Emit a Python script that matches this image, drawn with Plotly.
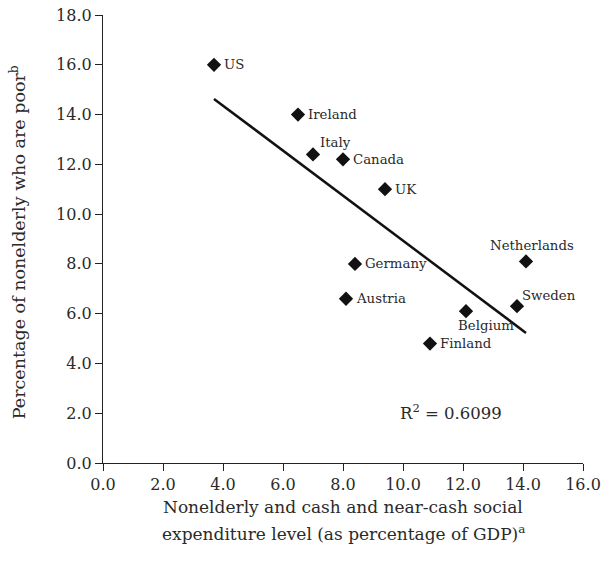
import numpy as np
import plotly.graph_objects as go

countries = ["US", "Ireland", "Italy", "Canada", "UK", "Germany", "Austria",
             "Belgium", "Finland", "Sweden", "Netherlands"]
expenditure = [3.7, 6.5, 7.0, 8.0, 9.4, 8.4, 8.1, 12.1, 10.9, 13.8, 14.1]
poverty = [16.0, 14.0, 12.4, 12.2, 11.0, 8.0, 6.6, 6.1, 4.8, 6.3, 8.1]
r_squared = "0.6099"
x_title_lines = ["Nonelderly and cash and near-cash social",
                 "expenditure level (as percentage of GDP)<sup>a</sup>"]
y_title = "Percentage of nonelderly who are poor<sup>b</sup>"

# label placement: (xanchor, yanchor, xshift, yshift)
label_pos = {
    "US": ("left", "middle", 8, 0),
    "Ireland": ("left", "middle", 8, 0),
    "Italy": ("left", "bottom", 5, 2),
    "Canada": ("left", "middle", 8, 0),
    "UK": ("left", "middle", 8, 0),
    "Germany": ("left", "middle", 8, 0),
    "Austria": ("left", "middle", 8, 0),
    "Belgium": ("center", "top", 20, -5),
    "Finland": ("left", "middle", 8, 0),
    "Sweden": ("left", "bottom", 3, 1),
    "Netherlands": ("center", "bottom", 6, 6),
}

FONT = "DejaVu Serif"
TXT = "#2a2a2a"

x = np.array(expenditure)
y = np.array(poverty)
slope, intercept = np.polyfit(x, y, 1)
xl = np.array([x.min(), x.max()])
yl = slope * xl + intercept

fig = go.Figure()
fig.add_trace(go.Scatter(x=xl, y=yl, mode="lines",
                         line=dict(color="#111111", width=2.5),
                         hoverinfo="skip", showlegend=False))
fig.add_trace(go.Scatter(x=expenditure, y=poverty, mode="markers",
                         marker=dict(symbol="diamond", size=11, color="#111111"),
                         text=countries, showlegend=False))

for c, xv, yv in zip(countries, expenditure, poverty):
    xa, ya, xs, ys = label_pos[c]
    fig.add_annotation(x=xv, y=yv, text=c, showarrow=False,
                       xanchor=xa, yanchor=ya, xshift=xs, yshift=ys,
                       font=dict(family=FONT, size=13.3, color=TXT))

fig.add_annotation(x=11.6, y=2.05, text="R<sup>2</sup> = " + r_squared,
                   showarrow=False, xanchor="center", yanchor="middle",
                   font=dict(family=FONT, size=16.5, color=TXT))

# axis titles
fig.add_annotation(xref="paper", yref="paper", x=0.5, y=-0.098,
                   text=x_title_lines[0], showarrow=False,
                   xanchor="center", yanchor="middle",
                   font=dict(family=FONT, size=17, color=TXT))
fig.add_annotation(xref="paper", yref="paper", x=0.5, y=-0.156,
                   text=x_title_lines[1], showarrow=False,
                   xanchor="center", yanchor="middle",
                   font=dict(family=FONT, size=17, color=TXT))
fig.add_annotation(xref="paper", yref="paper", x=-0.177, y=0.493,
                   text=y_title, showarrow=False, textangle=-90,
                   xanchor="center", yanchor="middle",
                   font=dict(family=FONT, size=17.5, color=TXT))

fig.update_layout(
    width=605, height=564,
    margin=dict(l=103, r=22, t=15, b=101),
    paper_bgcolor="white", plot_bgcolor="white",
    font=dict(family=FONT, size=16, color=TXT),
    xaxis=dict(range=[0, 16], dtick=2, tickformat=".1f",
               showline=True, linecolor="#222222", linewidth=1.2,
               ticks="outside", ticklen=7, tickcolor="#222222",
               showgrid=False, zeroline=False, automargin=False,
               ticklabeloverflow="allow",
               tickfont=dict(family=FONT, size=16, color=TXT)),
    yaxis=dict(range=[0, 18], dtick=2, tickformat=".1f",
               showline=True, linecolor="#222222", linewidth=1.2,
               ticks="outside", ticklen=7, tickcolor="#222222",
               showgrid=False, zeroline=False, automargin=False,
               ticklabeloverflow="allow",
               tickfont=dict(family=FONT, size=16, color=TXT)),
)

fig.write_html("out.html", config={"displayModeBar": False},
               post_script="document.body.style.margin='0';")
